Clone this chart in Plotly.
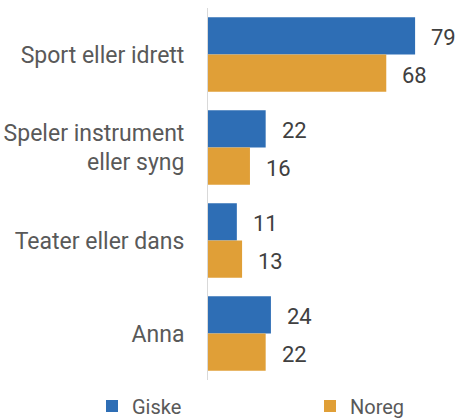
import plotly.graph_objects as go

categories = ["Sport eller idrett", "Speler instrument<br>eller syng", "Teater eller dans", "Anna"]
giske = [79, 22, 11, 24]
noreg = [68, 16, 13, 22]

BLUE = "#2E6EB5"
ORANGE = "#E09F37"
FONT = "Roboto"

W, H = 456, 420
M_L, M_R, M_T, M_B = 208, 0, 8, 40
BARGAP = 0.2

fig = go.Figure()
fig.add_trace(go.Bar(y=categories, x=giske, name="Giske", orientation="h",
                     marker=dict(color=BLUE, line=dict(width=0)), legend="legend"))
fig.add_trace(go.Bar(y=categories, x=noreg, name="Noreg", orientation="h",
                     marker=dict(color=ORANGE, line=dict(width=0)), legend="legend2"))

# value labels to the right of each bar
plot_h = H - M_T - M_B
bar_h = plot_h / len(categories) * (1 - BARGAP) / 2
for cat, g, n in zip(categories, giske, noreg):
    for val, shift in ((g, bar_h / 2), (n, -bar_h / 2)):
        fig.add_annotation(x=val, y=cat, xref="x", yref="y", text=str(val),
                           showarrow=False, xanchor="left", xshift=14, yshift=shift - 2,
                           font=dict(family=FONT, size=22, color="#404040"))

plot_w = W - M_L - M_R
legend_common = dict(orientation="h", yanchor="middle", y=(H - M_B - 406) / plot_h,
                     font=dict(family=FONT, size=20, color="#595959"),
                     bgcolor="rgba(0,0,0,0)", borderwidth=0)

fig.update_layout(
    width=W, height=H,
    margin=dict(l=M_L, r=M_R, t=M_T, b=M_B, autoexpand=False),
    barmode="group", bargap=BARGAP, bargroupgap=0,
    plot_bgcolor="white", paper_bgcolor="white",
    showlegend=True,
    legend=dict(x=(92 - M_L) / plot_w, xanchor="left", **legend_common),
    legend2=dict(x=(310 - M_L) / plot_w, xanchor="left", **legend_common),
    xaxis=dict(range=[0, 94.6], autorange=False, showgrid=False, zeroline=False,
               showticklabels=False, showline=False, ticks=""),
    yaxis=dict(autorange="reversed", showline=True, linecolor="#D9D9D9", linewidth=1,
               showgrid=False, ticks="", ticklabelstandoff=18,
               tickfont=dict(family=FONT, size=23, color="#595959")),
)

fig.write_html("out.html")
